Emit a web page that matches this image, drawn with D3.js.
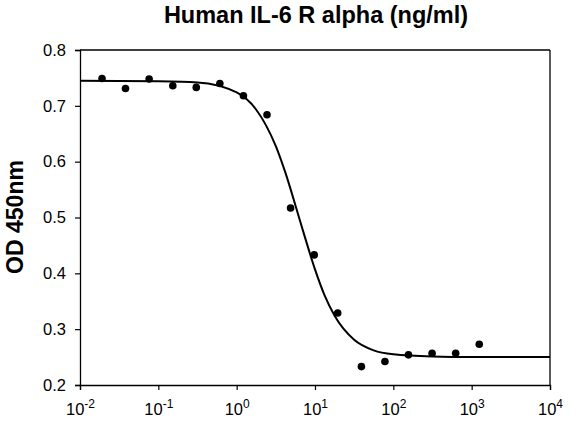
<!DOCTYPE html>
<html>
<head>
<meta charset="utf-8">
<script src="https://cdn.jsdelivr.net/npm/d3@7"></script>
<style>
  body { margin: 0; background: #fff; }
  text { font-family: "Liberation Sans", Arial, sans-serif; fill: #000; }
</style>
</head>
<body>
<div id="chart"></div>
<script>
// measured points, 2-fold dilution series
const conc = [0.0191, 0.0381, 0.0763, 0.153, 0.305, 0.610, 1.22, 2.44, 4.88,
              9.77, 19.5, 39.1, 78.1, 156, 312.5, 625, 1250];
const od = [0.749, 0.731, 0.748, 0.736, 0.733, 0.740, 0.718, 0.684, 0.517,
            0.433, 0.329, 0.233, 0.242, 0.254, 0.257, 0.257, 0.273];

// fitted curve
const curveConc = [0.01, 0.1, 0.316, 1, 1.78, 2.37, 3.16, 4.22, 5.62, 7.5,
                   10, 13.3, 17.8, 31.6, 56.2, 100, 316, 1000, 10000];
const curveOd = [0.745, 0.744, 0.742, 0.724, 0.693, 0.665, 0.628, 0.579, 0.522, 0.463,
                 0.407, 0.360, 0.324, 0.281, 0.262, 0.255, 0.251, 0.250, 0.250];

const xTicks = [0.01, 0.1, 1, 10, 100, 1000, 10000];
const yTicks = [0.2, 0.3, 0.4, 0.5, 0.6, 0.7, 0.8];

const titleText = "Human IL-6 R alpha (ng/ml)";
const yLabel = "OD 450nm";

var W = 586, H = 433;
var margin = {top: 50, right: 36, bottom: 48, left: 80},
    width = W - margin.left - margin.right,
    height = H - margin.top - margin.bottom;

var svg = d3.select("#chart")
    .append("svg")
    .attr("width", W)
    .attr("height", H)
    .append("g")
    .attr("transform", "translate(" + margin.left + "," + margin.top + ")");

var x = d3.scaleLog()
    .domain([0.01, 10000])
    .range([0, width]);

var y = d3.scaleLinear()
    .domain([0.2, 0.8])
    .range([height, 0]);

// frame (top + right)
svg.append("line")
    .attr("x1", 0).attr("x2", width)
    .attr("y1", 0).attr("y2", 0)
    .attr("stroke", "#000").attr("stroke-width", 1.3);
svg.append("line")
    .attr("x1", width).attr("x2", width)
    .attr("y1", 0).attr("y2", height)
    .attr("stroke", "#000").attr("stroke-width", 1.3);

// X axis
var xAxis = svg.append("g")
    .attr("transform", "translate(0," + height + ")")
    .call(d3.axisBottom(x).tickValues(xTicks).tickSize(5).tickFormat(""));
xAxis.select(".domain").attr("stroke-width", 1.3);
xAxis.selectAll(".tick line").attr("stroke-width", 1.2);

var xLab = xAxis.selectAll(".tick")
    .append("text")
    .attr("y", 30)
    .attr("text-anchor", "middle")
    .style("font-size", "16.5px");
xLab.append("tspan").text("10");
xLab.append("tspan")
    .attr("dy", -7)
    .style("font-size", "12px")
    .text(d => Math.round(Math.log10(d)));

// Y axis
var yAxis = svg.append("g")
    .call(d3.axisLeft(y).tickValues(yTicks).tickSize(5).tickPadding(9)
        .tickFormat(d3.format(".1f")));
yAxis.select(".domain").attr("stroke-width", 1.3);
yAxis.selectAll(".tick line").attr("stroke-width", 1.2);
yAxis.selectAll("text")
    .style("font-size", "16.5px")
    .attr("fill", "#000");

// fit curve
var line = d3.line()
    .x(d => x(d[0]))
    .y(d => y(d[1]))
    .curve(d3.curveMonotoneX);

svg.append("path")
    .datum(curveConc.map((c, i) => [c, curveOd[i]]))
    .attr("fill", "none")
    .attr("stroke", "#000")
    .attr("stroke-width", 2)
    .attr("d", line);

// points
svg.selectAll(".pt")
    .data(conc.map((c, i) => ({c: c, v: od[i]})))
    .enter()
    .append("circle")
    .attr("class", "pt")
    .attr("cx", d => x(d.c))
    .attr("cy", d => y(d.v))
    .attr("r", 3.8)
    .attr("fill", "#000");

// title
svg.append("text")
    .attr("x", 316 - margin.left)
    .attr("y", 22.7 - margin.top)
    .attr("text-anchor", "middle")
    .style("font-size", "23.5px")
    .style("font-weight", "bold")
    .text(titleText);

// y label
svg.append("text")
    .attr("transform", "translate(" + (23 - margin.left) + "," + (217 - margin.top) + ")rotate(-90)")
    .attr("text-anchor", "middle")
    .style("font-size", "23px")
    .style("font-weight", "bold")
    .text(yLabel);
</script>
</body>
</html>
